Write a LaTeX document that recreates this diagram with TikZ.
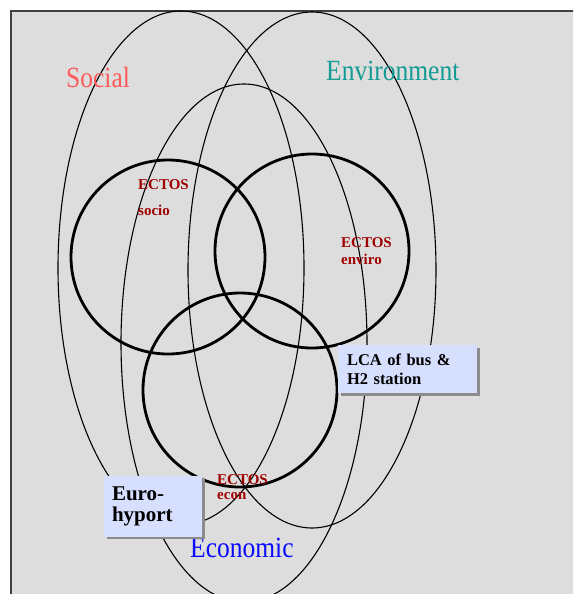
\documentclass[tikz,border=0pt]{standalone}
\usepackage{fontspec}
\setmainfont{Liberation Serif}
\usepackage{tikz}
\usetikzlibrary{shadows}
\definecolor{paper}{HTML}{DDDDDD}
\definecolor{socialred}{HTML}{FF5A5A}
\definecolor{enviroteal}{HTML}{139C94}
\definecolor{econblue}{HTML}{0A0AFF}
\definecolor{ectosred}{HTML}{A00000}
\definecolor{notefill}{HTML}{D7DFFF}
\newcommand{\tall}[1]{\scalebox{1}[1.15]{#1}}
\tikzset{
venn/.style = {draw, line width=1.1pt},
ectos/.style = {draw, line width=2.8pt},
area/.style = {anchor=base west, inner sep=0pt, font=\fontsize{25.5}{30}\selectfont},
ectoslabel/.style = {anchor=base west, inner sep=0pt, align=left, text=ectosred,
    font=\bfseries\fontsize{15}{17}\selectfont},
note/.style = {fill=notefill, rectangle, align=left, inner ysep=0pt,
    drop shadow={shadow xshift=2.5pt, shadow yshift=-2.5pt, fill=black!45, opacity=1}}
}

\begin{document}
\begin{tikzpicture}[x=1pt, y=-1pt]
    % page and grey slide
    \useasboundingbox (0,0) rectangle (573,594);
    \clip (0,0) rectangle (573,594);
    \fill [paper] (11,11) rectangle (590,610);
    \draw [black!75, line width=1.2pt] (11,610) -- (11,11) -- (590,11);

    % the three big sets
    \coordinate (social) at (181,268);
    \coordinate (enviro) at (312,270);
    \coordinate (econ) at (244,343);
    \draw [venn] (social) ellipse [x radius=123pt, y radius=257pt];
    \draw [venn] (enviro) ellipse [x radius=124pt, y radius=258pt];
    \draw [venn] (econ) ellipse [x radius=123pt, y radius=259pt];

    % the ECTOS circles
    \coordinate (ectossocio) at (168,257);
    \coordinate (ectosenviro) at (312,251);
    \coordinate (ectosecon) at (240,390);
    \draw [ectos] (ectossocio) circle [radius=97pt];
    \draw [ectos] (ectosenviro) circle [radius=97pt];
    \draw [ectos] (ectosecon) circle [radius=97pt];

    % labels (base is the last line)
    \node [area, text=socialred] (sociallabel) at (66,87) {\tall{Social}};
    \node [area, text=enviroteal] (envirolabel) at (326,81) {\tall{Environment}};
    \node [area, text=econblue] (econlabel) at (190,557) {\tall{Economic}};
    \node [ectoslabel] (sociotext) at (138,215) {ECTOS\\[9pt]socio};
    \node [ectoslabel] (envirotext) at (341,264) {ECTOS\\enviro};
    \node [ectoslabel] (econtext) at (217,499) {ECTOS\\[-2pt]econ};

    % the two case studies
    \node [note, text width=121pt, inner xsep=9pt, minimum height=48pt,
        font=\bfseries\fontsize{16.5}{19}\selectfont] (lca) at (407.5,369)
        {LCA of bus \&\\H2 station};
    \node [note, text width=82pt, inner xsep=8pt, minimum height=61pt,
        font=\bfseries\fontsize{21}{21}\selectfont] (hyport) at (153,506)
        {Euro-\\hyport};
\end{tikzpicture}
\end{document}
